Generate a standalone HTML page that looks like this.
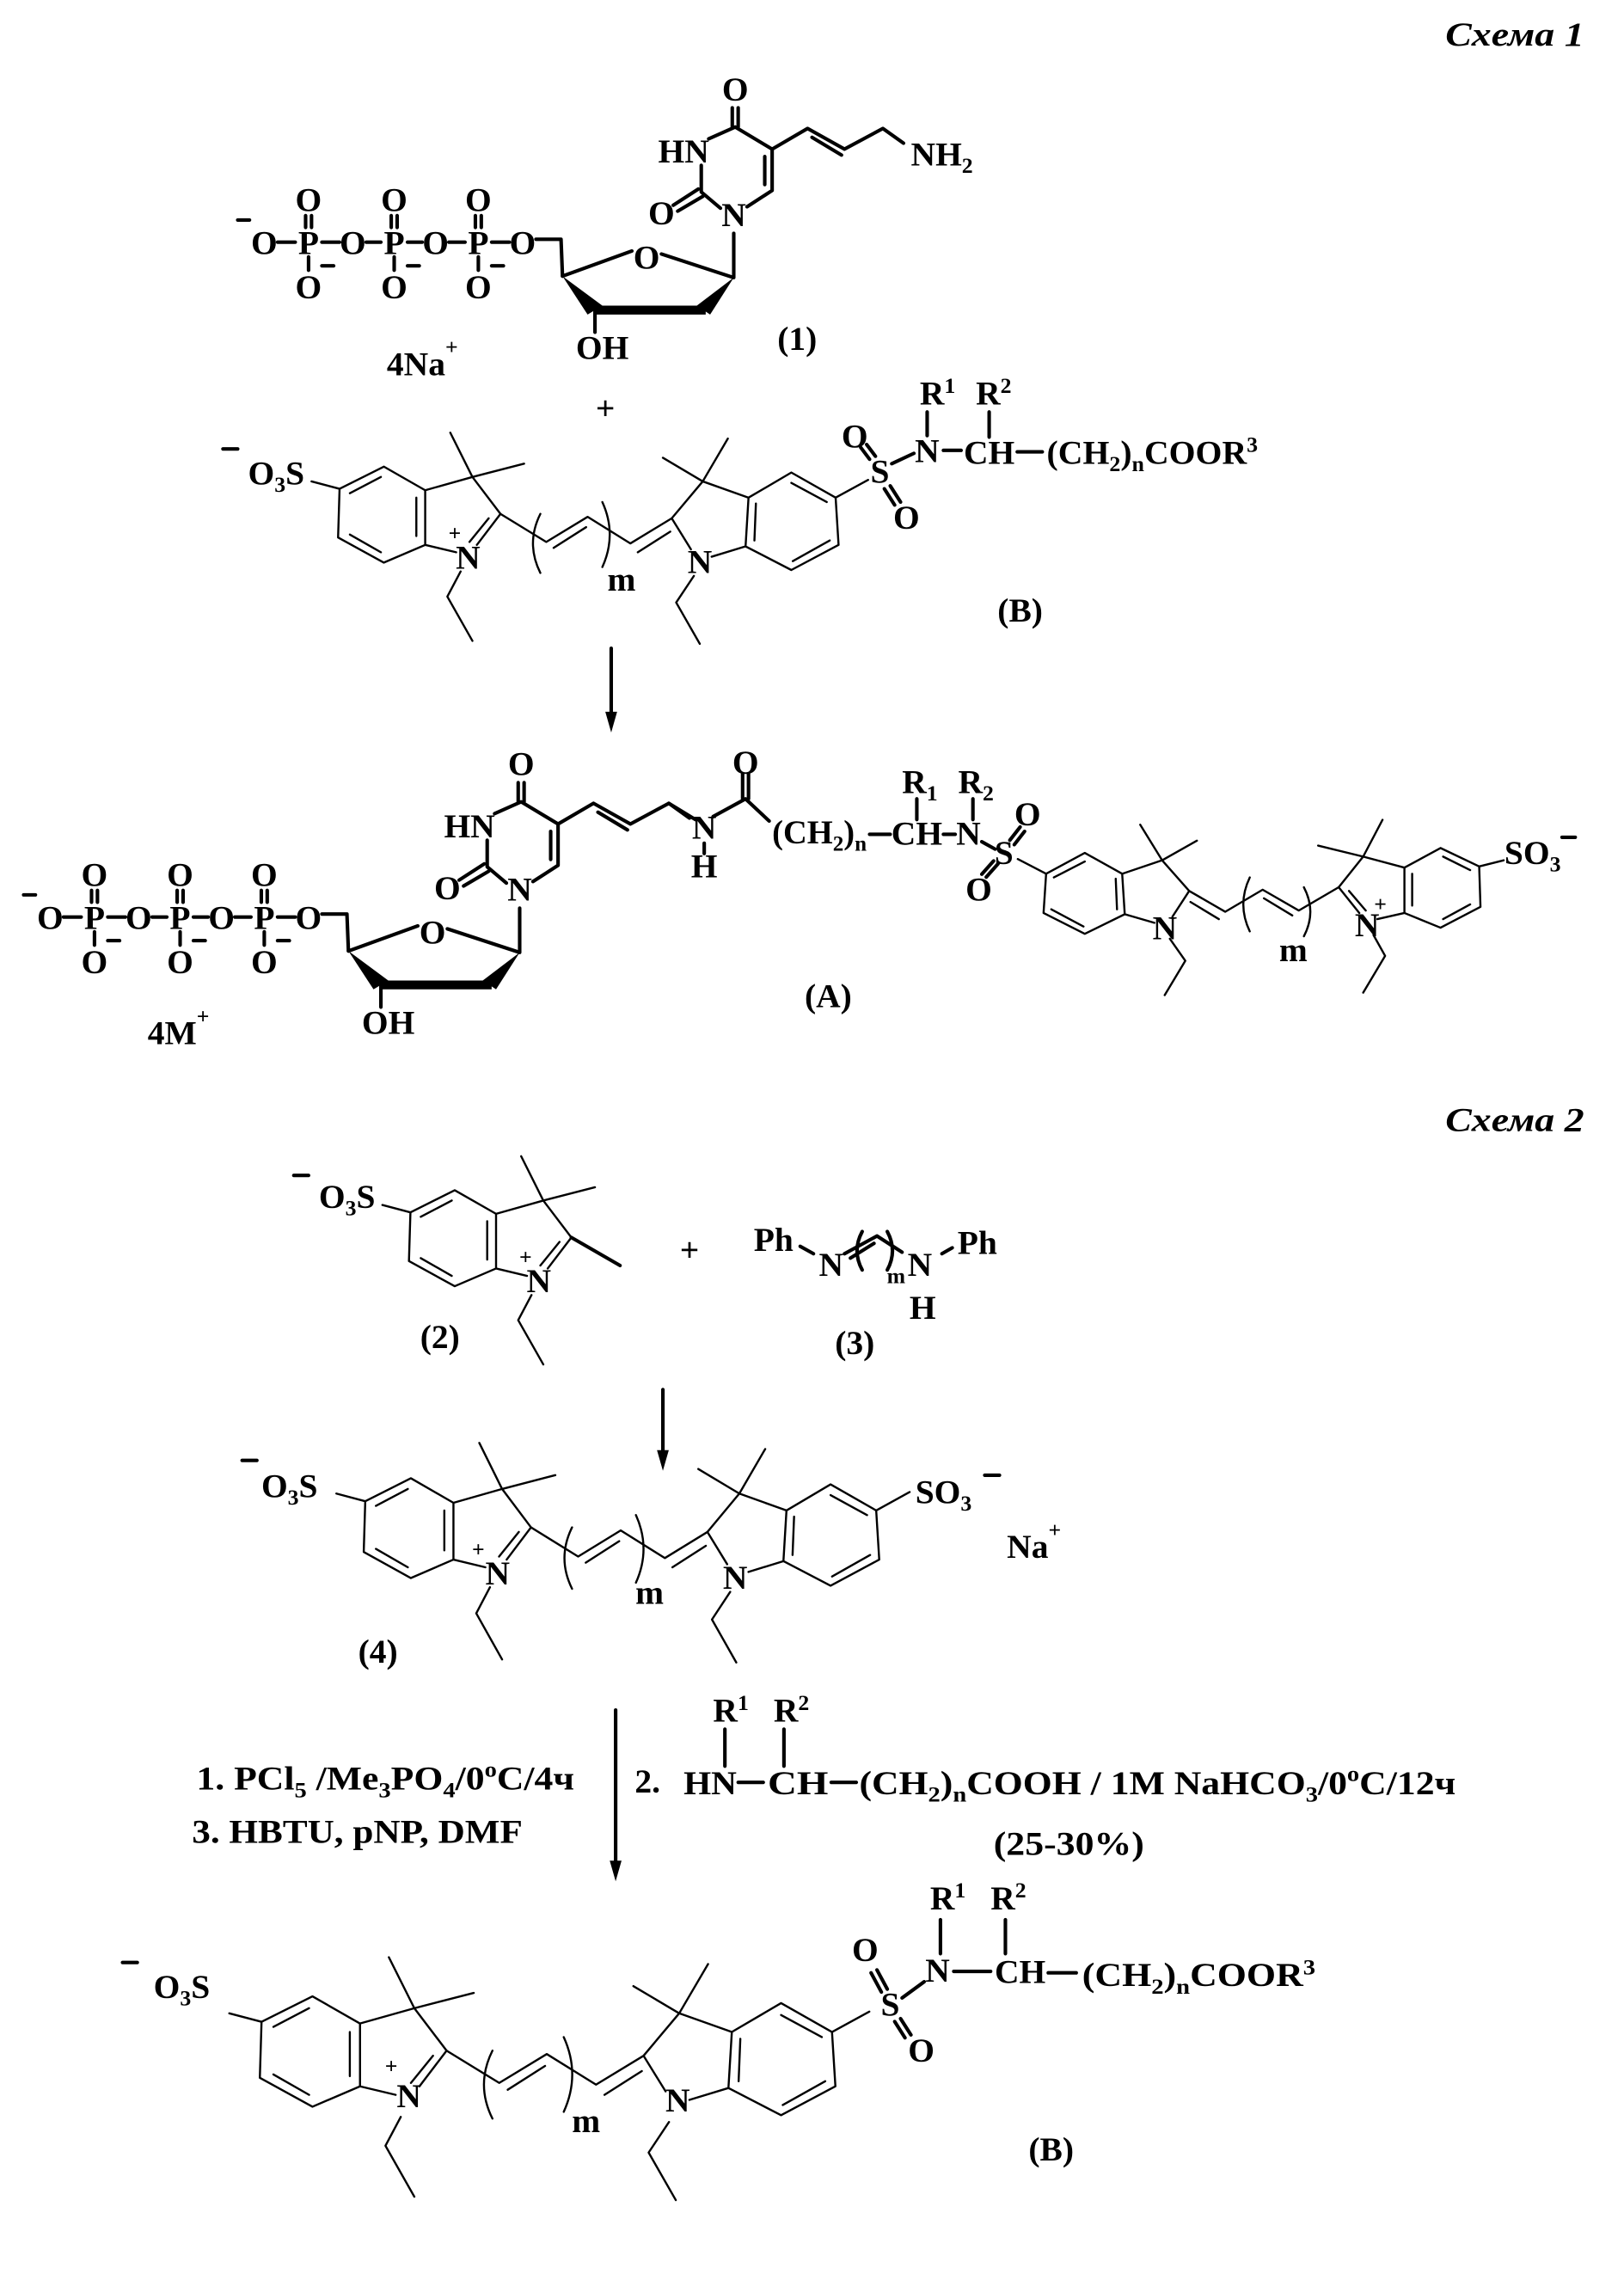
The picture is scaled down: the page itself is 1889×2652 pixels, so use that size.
<!DOCTYPE html>
<html><head><meta charset="utf-8">
<style>
html,body{margin:0;padding:0;background:#fff;}
svg{display:block;}
text{font-family:"Liberation Serif",serif;font-weight:bold;font-size:23px;fill:#000;}
.b{stroke:#000;stroke-width:2.4;fill:none;stroke-linecap:round;stroke-linejoin:round;}
.s{font-size:15px;}
.it{font-style:italic;}
</style></head><body>
<svg width="1889" height="2652" viewBox="0 0 1100 1544" preserveAspectRatio="none" xmlns="http://www.w3.org/2000/svg">
<defs>
<g id="Lh">
<path class="b" vector-effect="non-scaling-stroke" d="M260,316 L288,332 L288,369 L260,381 L229,364 L230,331 Z M258,323 L237,334 M282,337 L282,363 M258,374 L237,362 M288,332 L320,323 L339,348 L323,369 M331,351 L318,367 M288,369 L309,374 M320,323 L305,293 M320,323 L355,314 M312,387 L303,404 L320,434 M211,326 L230,331"/>
</g>
<g id="Rh">
<path class="b" vector-effect="non-scaling-stroke" d="M339,348 L370,367 L398,350 L427,368 L455,351 M375,371 L397,357 M432,374 L454,360 M366,348 Q356,368 366,388 M408,340 Q418,362 408,384 M455,351 L468,372 M455,351 L476,326 L507,337 M482,377 L505,370 M476,326 L449,310 M476,326 L493,297 M507,337 L536,320 L566,337 L568,369 L536,386 L505,370 Z M536,327 L560,340 M562,366 L537,380 M512,341 L511,366 M470,390 L458,408 L474,436 M566,337 L588,325"/>
</g>
<g id="core"><use href="#Lh"/><use href="#Rh"/></g>
<g id="nuc">
<text x="179" y="172" text-anchor="middle">O</text>
<text x="209" y="172" text-anchor="middle">P</text>
<text x="239" y="172" text-anchor="middle">O</text>
<text x="267" y="172" text-anchor="middle">P</text>
<text x="295" y="172" text-anchor="middle">O</text>
<text x="324" y="172" text-anchor="middle">P</text>
<text x="354" y="172" text-anchor="middle">O</text>
<text x="209" y="143" text-anchor="middle">O</text>
<text x="267" y="143" text-anchor="middle">O</text>
<text x="324" y="143" text-anchor="middle">O</text>
<text x="209" y="202" text-anchor="middle">O</text>
<text x="267" y="202" text-anchor="middle">O</text>
<text x="324" y="202" text-anchor="middle">O</text>
<path class="b" d="M161,149 L169,149 M188,164 L200,164 M218,164 L230,164 M248,164 L258,164 M276,164 L286,164 M304,164 L315,164 M333,164 L345,164 M207,146 L207,154 M211,146 L211,154 M265,146 L265,154 M269,146 L269,154 M322,146 L322,154 M326,146 L326,154 M209,174 L209,183 M267,174 L267,183 M324,174 L324,183 M218,180 L226,180 M276,180 L284,180 M333,180 L341,180 M363,162 L380,162 L381,187"/>
<text x="438" y="182" text-anchor="middle">O</text>
<path class="b" d="M381,187 L428,170 M448,172 L497,188 L497,158 M403,211 L403,225"/>
<polygon points="497,188 472,207 481,213" fill="#000"/>
<polygon points="381,187 398,213 408,207" fill="#000"/>
<path d="M403,210 L478,210" stroke="#000" stroke-width="6"/>
<text x="408" y="243" text-anchor="middle">OH</text>
<text x="497" y="153" text-anchor="middle">N</text>
<text x="463" y="110" text-anchor="middle">HN</text>
<text x="498" y="68" text-anchor="middle">O</text>
<text x="448" y="152" text-anchor="middle">O</text>
<path class="b" d="M488,141 L475,130 L475,112 M480,94 L498,86 L523,101 L523,129 L506,140 M518,106 L518,125 M496,86 L496,73 M500,86 L500,73 M473,128 L456,139 M476,133 L459,143 M523,101 L547,87 L572,101 L598,87 L612,97 M550,93 L570,105"/>
</g>
</defs>

<text x="1073" y="31" text-anchor="end" class="it" font-size="25" textLength="94" lengthAdjust="spacingAndGlyphs">Схема 1</text>

<use href="#nuc"/>
<text x="617" y="112">NH<tspan class="s" dy="5">2</tspan></text>
<text x="540" y="237" text-anchor="middle">(1)</text>
<text x="262" y="254">4Na<tspan class="s" font-size="19" dy="-14">+</tspan></text>
<text x="410" y="284" text-anchor="middle" font-size="28">+</text>

<use href="#core"/>
<path class="b" d="M151,304 L161,304"/>
<text x="168" y="328">O<tspan class="s" dy="5">3</tspan><tspan dy="-5">S</tspan></text>
<text x="308" y="366" text-anchor="middle" class="s" font-size="17">+</text>
<text x="317" y="385" text-anchor="middle">N</text>
<text x="474" y="388" text-anchor="middle">N</text>
<text x="421" y="400" text-anchor="middle" font-size="20">m</text>
<text x="596" y="327" text-anchor="middle">S</text>
<text x="579" y="303" text-anchor="middle">O</text>
<text x="614" y="358" text-anchor="middle">O</text>
<path class="b" d="M589,311 L583,303 M593,309 L587,301 M599,331 L606,342 M603,329 L610,340 M604,314 L619,307 M628,295 L628,279 M639,305 L651,305 M670,296 L670,279 M689,306 L706,306"/>
<text x="628" y="313" text-anchor="middle">N</text>
<text x="623" y="274">R<tspan class="s" dy="-8">1</tspan></text>
<text x="661" y="274">R<tspan class="s" dy="-8">2</tspan></text>
<text x="670" y="314" text-anchor="middle">CH</text>
<text x="709" y="314" textLength="143" lengthAdjust="spacingAndGlyphs">(CH<tspan class="s" dy="5">2</tspan><tspan dy="-5">)</tspan><tspan class="s" dy="5">n</tspan><tspan dy="-5">COOR</tspan><tspan class="s" dy="-8">3</tspan></text>
<text x="691" y="421" text-anchor="middle">(B)</text>

<path class="b" d="M414,439 L414,488"/>
<polygon points="410,482 418,482 414,496" fill="#000"/>

<g transform="translate(-145,457)"><use href="#nuc"/></g>
<path class="b" d="M453,544 L471,555 M483,553 L505,541 M503,541 L503,524 M507,541 L507,524 M505,541 L521,556 M477,571 L477,578 M589,565 L603,565 M621,541 L621,555 M639,565 L647,565 M659,541 L659,555 M665,570 L674,575 M684,569 L691,560 M687,572 L694,563 M676,585 L668,594 M673,583 L665,592"/>
<text x="477" y="568" text-anchor="middle">N</text>
<text x="477" y="594" text-anchor="middle">H</text>
<text x="505" y="524" text-anchor="middle">O</text>
<text x="523" y="571" textLength="64" lengthAdjust="spacingAndGlyphs">(CH<tspan class="s" dy="5">2</tspan><tspan dy="-5">)</tspan><tspan class="s" dy="5">n</tspan></text>
<text x="621" y="572" text-anchor="middle">CH</text>
<text x="611" y="537">R<tspan class="s" dy="5">1</tspan></text>
<text x="649" y="537">R<tspan class="s" dy="5">2</tspan></text>
<text x="656" y="572" text-anchor="middle">N</text>
<text x="680" y="585" text-anchor="middle">S</text>
<text x="696" y="559" text-anchor="middle">O</text>
<text x="663" y="610" text-anchor="middle">O</text>
<g transform="matrix(-0.873 0 0 0.83 1202.7 312)"><use href="#core"/></g>
<text x="926" y="634" text-anchor="middle">N</text>
<text x="935" y="617" text-anchor="middle" class="s" font-size="17">+</text>
<text x="789" y="636" text-anchor="middle">N</text>
<text x="876" y="651" text-anchor="middle" font-size="20">m</text>
<text x="1019" y="585">SO<tspan class="s" dy="5">3</tspan></text>
<path class="b" d="M1058,567 L1067,567"/>
<text x="561" y="682" text-anchor="middle">(A)</text>
<text x="100" y="707">4M<tspan class="s" font-size="19" dy="-14">+</tspan></text>

<text x="1073" y="766" text-anchor="end" class="it" font-size="25" textLength="94" lengthAdjust="spacingAndGlyphs">Схема 2</text>

<g transform="translate(48,490)"><use href="#Lh"/><path class="b" d="M339,348 L372,367"/></g>
<path class="b" d="M199,796 L209,796"/>
<text x="216" y="818">O<tspan class="s" dy="5">3</tspan><tspan dy="-5">S</tspan></text>
<text x="356" y="856" text-anchor="middle" class="s" font-size="17">+</text>
<text x="365" y="875" text-anchor="middle">N</text>
<text x="298" y="913" text-anchor="middle">(2)</text>
<text x="467" y="854" text-anchor="middle" font-size="26">+</text>

<text x="524" y="847" text-anchor="middle">Ph</text>
<text x="563" y="864" text-anchor="middle">N</text>
<text x="623" y="864" text-anchor="middle">N</text>
<text x="662" y="849" text-anchor="middle">Ph</text>
<text x="625" y="893" text-anchor="middle">H</text>
<text x="607" y="869" text-anchor="middle" class="s">m</text>
<path class="b" d="M542,844 L551,849 M572,849 L594,837 L611,848 M576,852 L592,842 M584,834 Q577,847 584,860 M601,834 Q608,847 601,860 M638,849 L645,845"/>
<text x="579" y="917" text-anchor="middle">(3)</text>

<path class="b" d="M449,941 L449,988"/>
<polygon points="445,982 453,982 449,996" fill="#000"/>

<g transform="matrix(1.03 0 0 1.04 10.5 672.4)"><use href="#core"/></g>
<path class="b" d="M164,989 L174,989"/>
<text x="177" y="1014">O<tspan class="s" dy="5">3</tspan><tspan dy="-5">S</tspan></text>
<text x="324" y="1054" text-anchor="middle" class="s" font-size="17">+</text>
<text x="337" y="1073" text-anchor="middle">N</text>
<text x="498" y="1076" text-anchor="middle">N</text>
<text x="440" y="1086" text-anchor="middle" font-size="20">m</text>
<text x="620" y="1018">SO<tspan class="s" dy="5">3</tspan></text>
<path class="b" d="M667,999 L677,999"/>
<text x="682" y="1055">Na<tspan class="s" font-size="19" dy="-14">+</tspan></text>
<text x="256" y="1126" text-anchor="middle">(4)</text>

<text x="133" y="1212" textLength="256" lengthAdjust="spacingAndGlyphs">1. PCl<tspan class="s" dy="5">5</tspan><tspan dy="-5"> /Me</tspan><tspan class="s" dy="5">3</tspan><tspan dy="-5">PO</tspan><tspan class="s" dy="5">4</tspan><tspan dy="-5">/0</tspan><tspan class="s" dy="-9">o</tspan><tspan dy="9">C/4ч</tspan></text>
<text x="130" y="1248" textLength="224" lengthAdjust="spacingAndGlyphs">3. HBTU, pNP, DMF</text>
<path class="b" d="M417,1158 L417,1266"/>
<polygon points="413,1260 421,1260 417,1274" fill="#000"/>
<text x="430" y="1214">2.</text>
<text x="483" y="1166">R<tspan class="s" dy="-8">1</tspan></text>
<text x="524" y="1166">R<tspan class="s" dy="-8">2</tspan></text>
<path class="b" d="M491,1171 L491,1196 M531,1171 L531,1196 M500,1207 L517,1207 M563,1207 L580,1207"/>
<text x="463" y="1215" textLength="36" lengthAdjust="spacingAndGlyphs">HN</text>
<text x="520" y="1215" textLength="41" lengthAdjust="spacingAndGlyphs">CH</text>
<text x="582" y="1215" textLength="404" lengthAdjust="spacingAndGlyphs">(CH<tspan class="s" dy="5">2</tspan><tspan dy="-5">)</tspan><tspan class="s" dy="5">n</tspan><tspan dy="-5">COOH / 1M NaHCO</tspan><tspan class="s" dy="5">3</tspan><tspan dy="-5">/0</tspan><tspan class="s" dy="-9">o</tspan><tspan dy="9">C/12ч</tspan></text>
<text x="673" y="1256" textLength="102" lengthAdjust="spacingAndGlyphs">(25-30%)</text>

<g transform="matrix(1.15 0 0 1.15 -87.35 988.5)"><use href="#core"/></g>
<path class="b" d="M83,1329 L93,1329"/>
<text x="104" y="1353">O<tspan class="s" dy="5">3</tspan><tspan dy="-5">S</tspan></text>
<text x="265" y="1404" text-anchor="middle" class="s" font-size="17">+</text>
<text x="277" y="1427" text-anchor="middle">N</text>
<text x="459" y="1430" text-anchor="middle">N</text>
<text x="397" y="1444" text-anchor="middle" font-size="21">m</text>
<text x="603" y="1365" text-anchor="middle">S</text>
<text x="586" y="1328" text-anchor="middle">O</text>
<text x="624" y="1396" text-anchor="middle">O</text>
<path class="b" d="M597,1349 L590,1336 M601,1347 L594,1334 M606,1369 L613,1380 M610,1367 L617,1378 M611,1353 L626,1342 M637,1323 L637,1300 M646,1335 L671,1335 M681,1323 L681,1300 M710,1336 L729,1336"/>
<text x="635" y="1342" text-anchor="middle">N</text>
<text x="630" y="1293">R<tspan class="s" dy="-8">1</tspan></text>
<text x="671" y="1293">R<tspan class="s" dy="-8">2</tspan></text>
<text x="691" y="1343" text-anchor="middle">CH</text>
<text x="733" y="1345" textLength="158" lengthAdjust="spacingAndGlyphs">(CH<tspan class="s" dy="5">2</tspan><tspan dy="-5">)</tspan><tspan class="s" dy="5">n</tspan><tspan dy="-5">COOR</tspan><tspan class="s" dy="-8">3</tspan></text>
<text x="712" y="1463" text-anchor="middle">(B)</text>
</svg>
</body></html>
